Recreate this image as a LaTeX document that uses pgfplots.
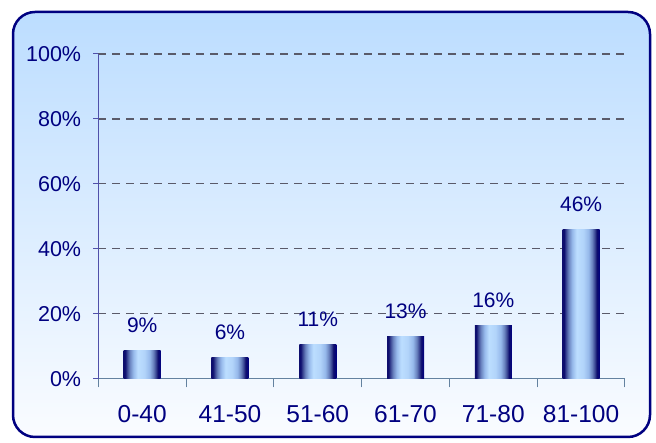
\documentclass[border=0pt]{standalone}
\usepackage{fontspec}
\setmainfont{Liberation Sans}
\usepackage{pgfplots}
\pgfplotsset{compat=1.18}
\definecolor{navb}{RGB}{0,0,128}
\definecolor{bgtop}{RGB}{188,221,255}
\definecolor{bgbot}{RGB}{250,252,255}
\definecolor{gridc}{RGB}{90,90,105}
\definecolor{yaxc}{RGB}{80,80,170}
\definecolor{xaxc}{RGB}{100,130,160}
\definecolor{bar0}{RGB}{14,14,110}
\definecolor{bar1}{RGB}{50,60,140}
\definecolor{bar2}{RGB}{105,130,190}
\definecolor{bar3}{RGB}{150,185,235}
\definecolor{bar4}{RGB}{188,222,255}
\definecolor{bar5}{RGB}{178,212,250}
\pgfdeclarehorizontalshading{cyl}{100bp}{color(0bp)=(bar0); color(25bp)=(bar0); color(27bp)=(bar0); color(29bp)=(bar1); color(33bp)=(bar2); color(38bp)=(bar3); color(44bp)=(bar4); color(53bp)=(bar5); color(60bp)=(bar3); color(65bp)=(bar2); color(69bp)=(bar1); color(71bp)=(bar0); color(75bp)=(navb); color(100bp)=(navb)}
\begin{document}
\begin{tikzpicture}[x=1pt,y=1pt]
\path[use as bounding box] (0,0) rectangle (656,443);
\draw[rounded corners=22pt, line width=2.5pt, draw=navb, top color=bgtop, bottom color=bgbot] (13,6) rectangle (650,431);
\begin{axis}[
  at={(98.3pt,64.3pt)}, anchor=south west,
  scale only axis, width=526.7pt, height=324.7pt,
  xmin=-0.5, xmax=5.5, ymin=0, ymax=100,
  axis lines*=left,
  x axis line style={draw=xaxc, line width=1pt},
  y axis line style={draw=yaxc, line width=1pt},
  tick align=outside,
  major tick length=5pt, minor tick length=8.7pt,
  xtick={0,...,5},
  xticklabels={0-40,41-50,51-60,61-70,71-80,81-100},
  minor xtick={-0.5,0.5,...,5.5},
  every major x tick/.append style={draw=none},
  every minor x tick/.append style={draw=xaxc, line width=1pt},
  every major y tick/.append style={draw=yaxc, line width=1pt},
  ytick={0,20,...,100},
  yticklabels={0\%,20\%,40\%,60\%,80\%,100\%},
  yticklabel style={font=\fontsize{21.5}{25}\selectfont, text=navb, inner sep=0pt, anchor=east, xshift=-12pt},
  xticklabel style={font=\fontsize{24.5}{28}\selectfont, text=navb, inner sep=0pt, anchor=base, yshift=-39pt},
  ymajorgrids,
  major grid style={draw=gridc, line width=1.2pt, dash pattern=on 8pt off 6pt},
  cylbar/.style={ybar, bar width=37pt, bar shift=0pt, draw=none, shading=cyl,
    nodes near coords, point meta=explicit symbolic,
    nodes near coords style={anchor=base, yshift=18pt, inner sep=0pt, text=navb, font=\fontsize{21}{24}\selectfont}},
]
\addplot[cylbar] coordinates {(0,8.8) [9\%]};
\addplot[cylbar] coordinates {(1,6.4) [6\%]};
\addplot[cylbar] coordinates {(2,10.5) [11\%]};
\addplot[cylbar] coordinates {(3,12.9) [13\%]};
\addplot[cylbar] coordinates {(4,16.3) [16\%]};
\addplot[cylbar] coordinates {(5,45.8) [46\%]};
\end{axis}
\end{tikzpicture}
\end{document}
